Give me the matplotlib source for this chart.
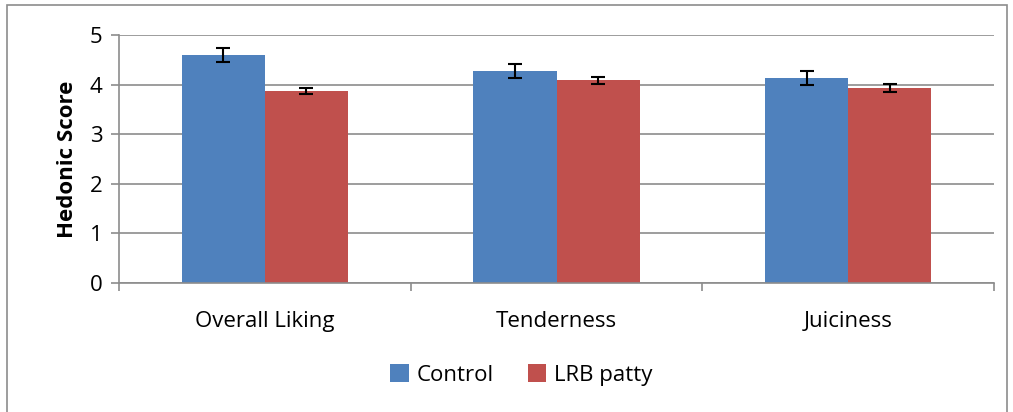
import numpy as np
import matplotlib.pyplot as plt
from matplotlib.patches import Rectangle

categories = ["Overall Liking", "Tenderness", "Juiciness"]
control = [4.60, 4.27, 4.13]
control_err = [0.145, 0.14, 0.145]
lrb = [3.87, 4.09, 3.93]
lrb_err = [0.065, 0.07, 0.08]

plt.rcParams['font.family'] = ['Open Sans', 'DejaVu Sans']

fig = plt.figure(figsize=(10.13, 4.12), dpi=100)
# outer chart frame
fig.patches.append(Rectangle((7 / 1013, -0.01), 1000 / 1013, 1 - 5 / 412 + 0.01,
                             transform=fig.transFigure, fill=False,
                             edgecolor='#8c8c8c', linewidth=1.2))
ax = fig.add_axes([119 / 1013, 1 - 283 / 412, 875 / 1013, 248 / 412])

x = np.arange(len(categories))
w = 0.285
ax.bar(x - w / 2, control, w, color='#4f81bd', label='Control', zorder=2)
ax.bar(x + w / 2, lrb, w, color='#c0504d', label='LRB patty', zorder=2)
ax.errorbar(x - w / 2, control, yerr=control_err, fmt='none', ecolor='black',
            elinewidth=1.5, capsize=5, capthick=1.5, zorder=3)
ax.errorbar(x + w / 2, lrb, yerr=lrb_err, fmt='none', ecolor='black',
            elinewidth=1.5, capsize=5, capthick=1.5, zorder=3)

ax.set_xlim(-0.5, len(categories) - 0.5)
ax.set_ylim(0, 5)
ax.set_yticks(range(6))
ax.yaxis.grid(True, color='#8c8c8c', linewidth=1.2, zorder=0)
ax.set_axisbelow(True)

ax.set_xticks(x)
ax.set_xticklabels(categories, fontsize=16)
ax.tick_params(axis='x', length=0, pad=20)
ax.set_xticks(np.arange(-0.5, len(categories)), minor=True)
ax.tick_params(axis='x', which='minor', length=6, color='#8c8c8c', width=1.2)
ax.tick_params(axis='y', labelsize=16, length=6, color='#8c8c8c', width=1.2, pad=6)

for s in ['top', 'right']:
    ax.spines[s].set_visible(False)
for s in ['left', 'bottom']:
    ax.spines[s].set_color('#8c8c8c')
    ax.spines[s].set_linewidth(1.2)

ax.set_ylabel('Hedonic Score', fontsize=16, fontweight='bold', labelpad=8)

ax.legend(loc='center', bbox_to_anchor=(0.46, -0.37), ncol=2, frameon=False,
          fontsize=16, handlelength=0.85, handleheight=0.85, columnspacing=1.5,
          handletextpad=0.35)

fig.savefig('out.png', dpi=100)
